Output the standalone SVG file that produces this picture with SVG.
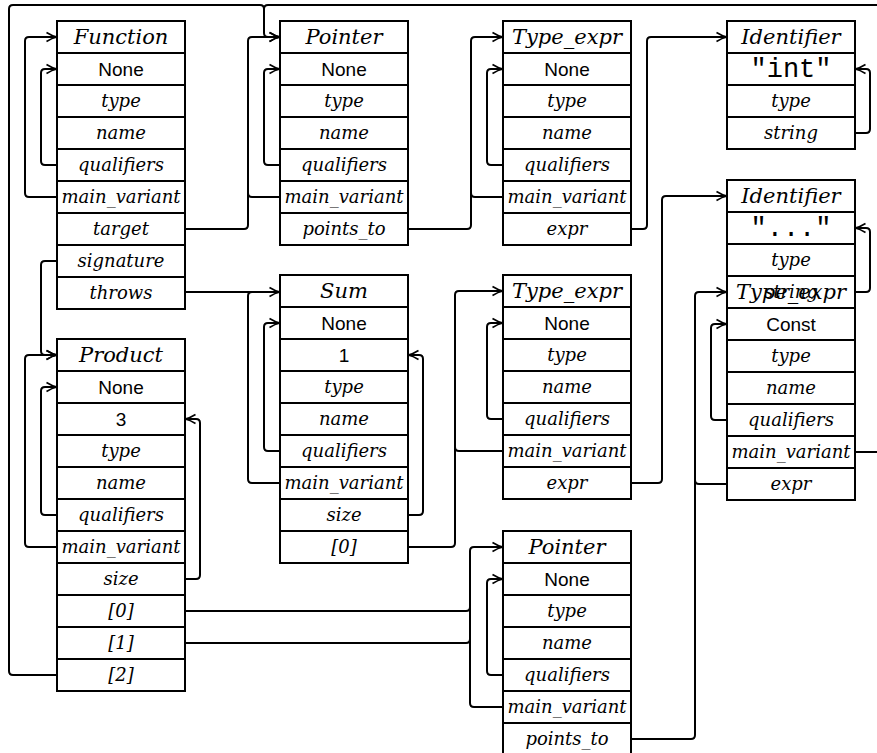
<svg xmlns="http://www.w3.org/2000/svg" width="877" height="753" viewBox="0 0 877 753">
<defs>
<style>
.b{fill:none;stroke:#000;stroke-width:2}
.s{fill:none;stroke:#000;stroke-width:2}
.c{fill:none;stroke:#000;stroke-width:2;stroke-linejoin:round}
.hd{font-family:"DejaVu Serif",serif;font-style:italic;font-size:21px;text-anchor:middle}
.f{font-family:"DejaVu Serif",serif;font-style:italic;font-size:18px;text-anchor:middle}
.v{font-family:"Liberation Sans",Arial,sans-serif;font-size:19px;text-anchor:middle}
.m{font-family:"Liberation Mono","Courier New",monospace;font-size:27px;text-anchor:middle}
</style>
<marker id="ar" markerUnits="userSpaceOnUse" markerWidth="14" markerHeight="12" refX="12" refY="6" orient="auto" overflow="visible">
<path d="M1.5,1.5 Q7,5 12,6 Q7,7 1.5,10.5" fill="none" stroke="#000" stroke-width="1.6"/>
</marker>
</defs>
<rect x="0" y="0" width="877" height="753" fill="#fff"/>

<g id="connectors">
<path class="c" d="M57 197 H29 Q25 197 25 193 V41 Q25 37 29 37 H57" marker-end="url(#ar)"/>
<path class="c" d="M57 165 H45 Q41 165 41 161 V73 Q41 69 45 69 H57" marker-end="url(#ar)"/>
<path class="c" d="M185 229 H244 Q248 229 248 225 V41 Q248 37 252 37 H280" marker-end="url(#ar)"/>
<path class="c" d="M280 197 H252 Q248 197 248 193 V180"/>
<path class="c" d="M280 165 H268 Q264 165 264 161 V73 Q264 69 268 69 H280" marker-end="url(#ar)"/>
<path class="c" d="M408 229 H467 Q471 229 471 225 V41 Q471 37 475 37 H503" marker-end="url(#ar)"/>
<path class="c" d="M503 197 H475 Q471 197 471 193 V180"/>
<path class="c" d="M503 165 H491 Q487 165 487 161 V73 Q487 69 491 69 H503" marker-end="url(#ar)"/>
<path class="c" d="M631 229 H643 Q647 229 647 225 V41 Q647 37 651 37 H727" marker-end="url(#ar)"/>
<path class="c" d="M855 133 H866 Q870 133 870 129 V73 Q870 69 866 69 H855" marker-end="url(#ar)"/>
<path class="c" d="M855 292 H866 Q870 292 870 288 V232 Q870 228 866 228 H855" marker-end="url(#ar)"/>
<path class="c" d="M57 261 H45 Q41 261 41 265 V351 Q41 355 45 355 H57" marker-end="url(#ar)"/>
<path class="c" d="M185 292 H280" marker-end="url(#ar)"/>
<path class="c" d="M280 483 H252 Q248 483 248 479 V296 Q248 292 252 292 H262"/>
<path class="c" d="M280 451 H268 Q264 451 264 447 V327 Q264 323 268 323 H280" marker-end="url(#ar)"/>
<path class="c" d="M408 515 H419 Q423 515 423 511 V359 Q423 355 419 355 H408" marker-end="url(#ar)"/>
<path class="c" d="M408 547 H451 Q455 547 455 543 V295 Q455 291 459 291 H503" marker-end="url(#ar)"/>
<path class="c" d="M503 451 H459 Q455 451 455 447 V430"/>
<path class="c" d="M503 419 H491 Q487 419 487 415 V327 Q487 323 491 323 H503" marker-end="url(#ar)"/>
<path class="c" d="M631 483 H658 Q662 483 662 479 V200 Q662 196 666 196 H727" marker-end="url(#ar)"/>
<path class="c" d="M727 420 H715 Q711 420 711 416 V328 Q711 324 715 324 H727" marker-end="url(#ar)"/>
<path class="c" d="M631 739 H691 Q695 739 695 735 V296 Q695 292 699 292 H727" marker-end="url(#ar)"/>
<path class="c" d="M727 484 H699 Q695 484 695 480 V470"/>
<path class="c" d="M855 452 H880"/>
<path class="c" d="M880 5 H268 Q264 5 264 9 V33 Q264 37 268 37 H280" marker-end="url(#ar)"/>
<path class="c" d="M57 675 H13 Q9 675 9 671 V9 Q9 5 13 5 H260 Q264 5 264 9 V20"/>
<path class="c" d="M57 547 H29 Q25 547 25 543 V359 Q25 355 29 355 H57" marker-end="url(#ar)"/>
<path class="c" d="M57 515 H45 Q41 515 41 511 V391 Q41 387 45 387 H57" marker-end="url(#ar)"/>
<path class="c" d="M185 579 H196 Q200 579 200 575 V423 Q200 419 196 419 H185" marker-end="url(#ar)"/>
<path class="c" d="M185 611 H466 Q470 611 470 607 V551 Q470 547 474 547 H503" marker-end="url(#ar)"/>
<path class="c" d="M185 643 H466 Q470 643 470 639 V600"/>
<path class="c" d="M503 707 H474 Q470 707 470 703 V630"/>
<path class="c" d="M503 675 H491 Q487 675 487 671 V583 Q487 579 491 579 H503" marker-end="url(#ar)"/>
</g>

<g id="function">
<rect class="b" x="57" y="21" width="128" height="288"/>
<path class="s" d="M57 53H185M57 85H185M57 117H185M57 149H185M57 181H185M57 213H185M57 245H185M57 277H185"/>
<text class="hd" x="121" y="44">Function</text>
<text class="v" x="121" y="76">None</text>
<text class="f" x="121" y="107">type</text>
<text class="f" x="121" y="139">name</text>
<text class="f" x="121" y="171">qualifiers</text>
<text class="f" x="121" y="203">main_variant</text>
<text class="f" x="121" y="235">target</text>
<text class="f" x="121" y="267">signature</text>
<text class="f" x="121" y="299">throws</text>
</g>

<g id="pointer1">
<rect class="b" x="280" y="21" width="128" height="224"/>
<path class="s" d="M280 53H408M280 85H408M280 117H408M280 149H408M280 181H408M280 213H408"/>
<text class="hd" x="344" y="44">Pointer</text>
<text class="v" x="344" y="76">None</text>
<text class="f" x="344" y="107">type</text>
<text class="f" x="344" y="139">name</text>
<text class="f" x="344" y="171">qualifiers</text>
<text class="f" x="344" y="203">main_variant</text>
<text class="f" x="344" y="235">points_to</text>
</g>

<g id="typeexpr1">
<rect class="b" x="503" y="21" width="128" height="224"/>
<path class="s" d="M503 53H631M503 85H631M503 117H631M503 149H631M503 181H631M503 213H631"/>
<text class="hd" x="567" y="44">Type_expr</text>
<text class="v" x="567" y="76">None</text>
<text class="f" x="567" y="107">type</text>
<text class="f" x="567" y="139">name</text>
<text class="f" x="567" y="171">qualifiers</text>
<text class="f" x="567" y="203">main_variant</text>
<text class="f" x="567" y="235">expr</text>
</g>

<g id="identifier1">
<rect class="b" x="727" y="21" width="128" height="128"/>
<path class="s" d="M727 53H855M727 85H855M727 117H855"/>
<text class="hd" x="791" y="44">Identifier</text>
<text class="m" x="791" y="77">"int"</text>
<text class="f" x="791" y="107">type</text>
<text class="f" x="791" y="139">string</text>
</g>

<g id="typeexpr3">
<rect class="b" x="727" y="276" width="128" height="224"/>
<path class="s" d="M727 308H855M727 340H855M727 372H855M727 404H855M727 436H855M727 468H855"/>
<text class="hd" x="791" y="299">Type_expr</text>
<text class="v" x="791" y="331">Const</text>
<text class="f" x="791" y="362">type</text>
<text class="f" x="791" y="394">name</text>
<text class="f" x="791" y="426">qualifiers</text>
<text class="f" x="791" y="458">main_variant</text>
<text class="f" x="791" y="490">expr</text>
</g>

<g id="identifier2">
<rect class="b" x="727" y="180" width="128" height="128"/>
<path class="s" d="M727 212H855M727 244H855M727 276H855"/>
<text class="hd" x="791" y="203">Identifier</text>
<text class="m" x="791" y="236">"..."</text>
<text class="f" x="791" y="266">type</text>
<text class="f" x="791" y="298">string</text>
</g>

<g id="sum">
<rect class="b" x="280" y="275" width="128" height="288"/>
<path class="s" d="M280 307H408M280 339H408M280 371H408M280 403H408M280 435H408M280 467H408M280 499H408M280 531H408"/>
<text class="hd" x="344" y="298">Sum</text>
<text class="v" x="344" y="330">None</text>
<text class="v" x="344" y="362">1</text>
<text class="f" x="344" y="393">type</text>
<text class="f" x="344" y="425">name</text>
<text class="f" x="344" y="457">qualifiers</text>
<text class="f" x="344" y="489">main_variant</text>
<text class="f" x="344" y="521">size</text>
<text class="f" x="344" y="553">[0]</text>
</g>

<g id="typeexpr2">
<rect class="b" x="503" y="275" width="128" height="224"/>
<path class="s" d="M503 307H631M503 339H631M503 371H631M503 403H631M503 435H631M503 467H631"/>
<text class="hd" x="567" y="298">Type_expr</text>
<text class="v" x="567" y="330">None</text>
<text class="f" x="567" y="361">type</text>
<text class="f" x="567" y="393">name</text>
<text class="f" x="567" y="425">qualifiers</text>
<text class="f" x="567" y="457">main_variant</text>
<text class="f" x="567" y="489">expr</text>
</g>

<g id="product">
<rect class="b" x="57" y="339" width="128" height="352"/>
<path class="s" d="M57 371H185M57 403H185M57 435H185M57 467H185M57 499H185M57 531H185M57 563H185M57 595H185M57 627H185M57 659H185"/>
<text class="hd" x="121" y="362">Product</text>
<text class="v" x="121" y="394">None</text>
<text class="v" x="121" y="426">3</text>
<text class="f" x="121" y="457">type</text>
<text class="f" x="121" y="489">name</text>
<text class="f" x="121" y="521">qualifiers</text>
<text class="f" x="121" y="553">main_variant</text>
<text class="f" x="121" y="585">size</text>
<text class="f" x="121" y="617">[0]</text>
<text class="f" x="121" y="649">[1]</text>
<text class="f" x="121" y="681">[2]</text>
</g>

<g id="pointer2">
<rect class="b" x="503" y="531" width="128" height="224"/>
<path class="s" d="M503 563H631M503 595H631M503 627H631M503 659H631M503 691H631M503 723H631"/>
<text class="hd" x="567" y="554">Pointer</text>
<text class="v" x="567" y="586">None</text>
<text class="f" x="567" y="617">type</text>
<text class="f" x="567" y="649">name</text>
<text class="f" x="567" y="681">qualifiers</text>
<text class="f" x="567" y="713">main_variant</text>
<text class="f" x="567" y="745">points_to</text>
</g>
</svg>
